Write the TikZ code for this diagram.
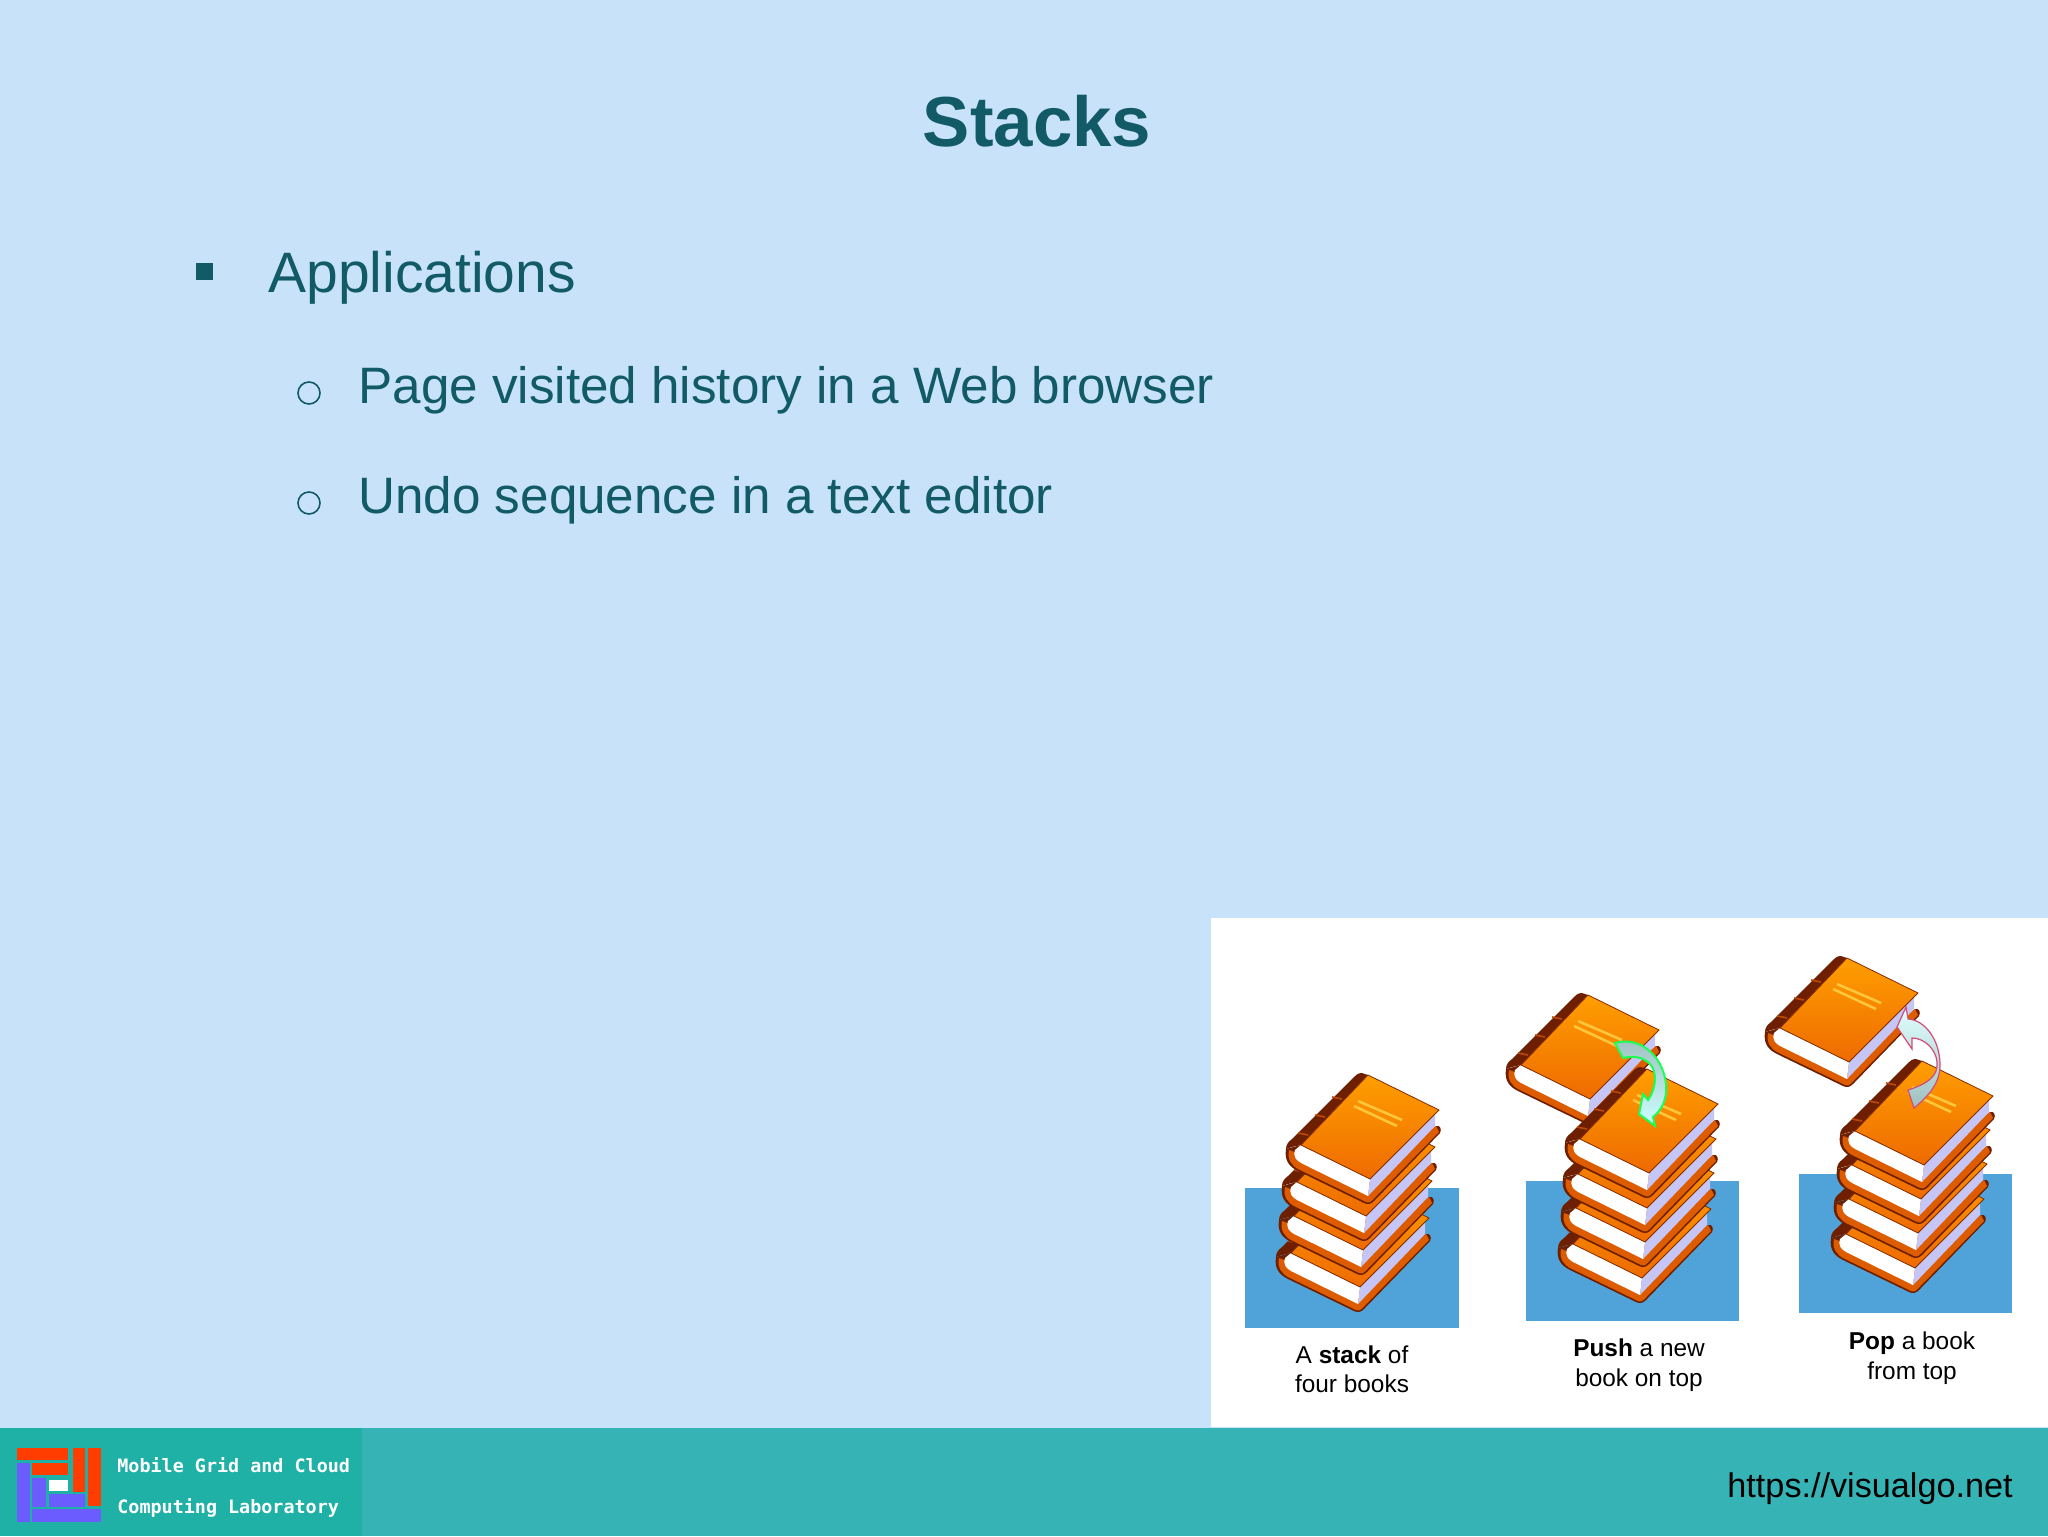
\documentclass[tikz,border=0pt]{standalone}
\usepackage{fontspec}
\setmainfont{Liberation Sans}
\newfontfamily\logofont{DejaVu Sans Mono}
\usetikzlibrary{positioning}

\definecolor{slidebg}{HTML}{C7E2F9}
\definecolor{slidetext}{HTML}{115A66}
\definecolor{footerbar}{HTML}{36B3B5}
\definecolor{logobar}{HTML}{1FB0A6}
\definecolor{logored}{HTML}{FF3D00}
\definecolor{logoblue}{HTML}{6A5CFF}
\definecolor{panelblue}{HTML}{4FA3D9}
\definecolor{coverhi}{HTML}{FF9E00}
\definecolor{coverlo}{HTML}{EE6A00}
\definecolor{spine}{HTML}{6E1F00}
\definecolor{board}{HTML}{DE5C00}
\definecolor{pageside}{HTML}{C6C6F6}
\definecolor{stripe}{HTML}{FFC63C}

\begin{document}
\begin{tikzpicture}[x=0.5pt, y=-0.5pt,
	txt/.style={inner sep=0pt, anchor=base west, text=slidetext},
	caption/.style={inner sep=0pt, align=center, text=black, font=\fontsize{12.2}{14.7}\selectfont},
	logotxt/.style={inner sep=0pt, anchor=west, text=white, font=\logofont\bfseries\fontsize{9.2}{11}\selectfont},
	bullet/.style={circle, draw=slidetext, line width=0.8pt, inner sep=0pt, minimum size=11pt},
	pushfall/.style={draw=green!75!cyan!90!white, line width=1pt, top color=gray!50!teal!50!white, bottom color=cyan!20!white},
	poprise/.style={draw=purple!70!white, line width=0.6pt, top color=cyan!12!white, bottom color=gray!50!teal!50!white},
	book/.pic={
		\fill[spine] (-84,-30) .. controls (-86,-18) and (-80,-12) .. (-72,-8) -- (-6,24) .. controls (-2,26) and (1,25) .. (4,22) -- (70,-46) .. controls (72,-50) and (70,-54) .. (66,-53) -- (0,0) -- (-69,-34) -- cycle;
		\fill[board] (-81,-29) .. controls (-83,-19) and (-78,-13) .. (-71,-9.5) -- (-5,22.5) .. controls (-2,24) and (0,24) .. (3,20.5) -- (69,-47) -- (66,-53) -- (0,0) -- cycle;
		\fill[white] (-69,-34) -- (-75,-29) .. controls (-77,-22) and (-74,-19) .. (-69,-16) -- (-2,17) -- (0,0) -- cycle;
		\fill[pageside] (0,0) -- (-2,17) -- (65,-53) -- (65,-67) -- cycle;
		\fill[spine] (-69,-34) -- (-2,-104) -- (-8,-106) .. controls (-12,-106) and (-14,-104) .. (-16,-102) -- (-78,-40) .. controls (-82,-37) and (-84,-34) .. (-84,-30) -- (-78,-32) -- cycle;
		\foreach \sx/\sy in {-72/-46, -55/-64, -38/-82}
			\draw[board!70!spine, line width=0.8pt] (\sx,\sy) -- ++(10,2);
		\path[draw=spine!80!board, line width=0.4pt, top color=coverhi, bottom color=coverlo] (-2,-104) -- (69,-69) -- (0,0) -- (-69,-34) -- cycle;
		\draw[stripe, line width=1.3pt] (-12,-78) -- (32,-59);
		\draw[stripe, line width=1.3pt] (-16,-73) -- (27,-53);
	}]

	\useasboundingbox (0,0) rectangle (2048,1536);
	\fill[slidebg] (0,0) rectangle (2048,1536);
	\fill[white] (1211,918) rectangle (2048,1427);
	\fill[footerbar] (0,1428) rectangle (2048,1536);
	\fill[logobar] (0,1428) rectangle (362,1536);

	\node[inner sep=0pt, anchor=base, text=slidetext, font=\bfseries\fontsize{35.4}{40}\selectfont] (title) at (1037,146) {Stacks};

	\fill[slidetext] (196,263) rectangle (213,280);
	\node[txt, font=\fontsize{28.5}{32}\selectfont] (apps) at (268,292) {Applications};
	\node[bullet] (dot1) at (309,393) {};
	\node[txt, font=\fontsize{25.6}{30}\selectfont] (hist) at (358,403) {Page visited history in a Web browser};
	\node[bullet] (dot2) at (309,503) {};
	\node[txt, font=\fontsize{25.6}{30}\selectfont] (undo) at (358,513) {Undo sequence in a text editor};

	\fill[panelblue] (1245,1188) rectangle (1459,1328);
	\fill[panelblue] (1526,1181) rectangle (1739,1321);
	\fill[panelblue] (1799,1174) rectangle (2012,1313);

	\foreach \bx/\by in {1360/1287, 1363/1250, 1366/1216, 1370/1179}
		\pic at (\bx,\by) {book};

	\pic at (1590,1099) {book};
	\foreach \bx/\by in {1642/1278, 1645/1242, 1647/1208, 1649/1173}
		\pic at (\bx,\by) {book};

	\pic at (1849,1062) {book};
	\foreach \bx/\by in {1915/1268, 1918/1233, 1921/1199, 1924/1165}
		\pic at (\bx,\by) {book};

	\path[pushfall] (1615,1043) .. controls (1640,1036) and (1660,1055) .. (1665,1078) .. controls (1669,1097) and (1662,1110) .. (1653,1117) -- (1655,1126) -- (1639,1114) -- (1643,1094) -- (1648,1100) .. controls (1658,1085) and (1656,1070) .. (1650,1064) .. controls (1642,1056) and (1632,1056) .. (1623,1058) -- cycle;

	\path[poprise] (1906,1007) -- (1897,1027) -- (1912,1049) -- (1912,1038) .. controls (1925,1038) and (1936,1050) .. (1937,1062) .. controls (1938,1075) and (1930,1083) .. (1908,1090) -- (1914,1108) .. controls (1930,1095) and (1940,1082) .. (1940,1065) .. controls (1940,1040) and (1925,1020) .. (1908,1019) -- cycle;

	\node[caption] (cap1) at (1352,1369) {A \textbf{stack} of\\four books};
	\node[caption] (cap2) at (1639,1365) {\textbf{Push} a new\\book on top};
	\node[caption] (cap3) at (1912,1358) {\textbf{Pop} a book\\from top};

	\foreach \lx/\ly/\lw/\lh in {17/1448/51/12, 32/1463/36/12, 73/1448/12/44, 88/1448/13/58}
		\fill[logored] (\lx,\ly) rectangle ++(\lw,\lh);
	\foreach \lx/\ly/\lw/\lh in {17/1463/13/59, 32/1478/14/29, 49/1494/36/13, 32/1509/69/13}
		\fill[logoblue] (\lx,\ly) rectangle ++(\lw,\lh);
	\fill[white] (49,1480) rectangle (68,1491);
	\node[logotxt] (lab1) at (117,1465) {Mobile Grid and Cloud};
	\node[logotxt] (lab2) at (117,1508) {Computing Laboratory};

	\node[inner sep=0pt, anchor=base east, text=black, font=\fontsize{17.1}{20}\selectfont] (url) at (2013,1497) {https://visualgo.net};

\end{tikzpicture}
\end{document}
